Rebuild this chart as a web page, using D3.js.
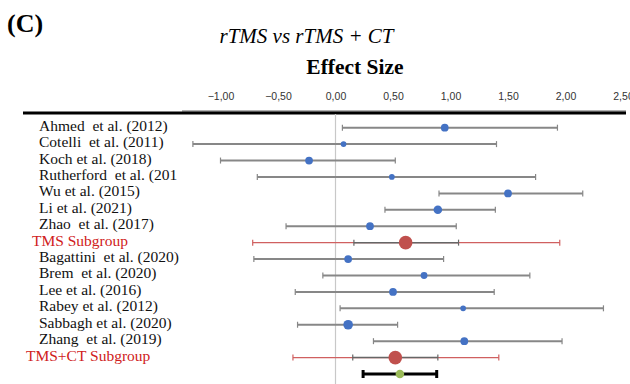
<!DOCTYPE html>
<html><head><meta charset="utf-8">
<script src="https://cdn.jsdelivr.net/npm/d3@7"></script>
<style>body{margin:0;background:#fff}svg{display:block}text{white-space:pre}</style>
</head><body><svg id="c" width="630" height="384"></svg>
<script>
const studies = ["Ahmed  et al. (2012)","Cotelli  et al. (2011)","Koch et al. (2018)","Rutherford  et al. (201","Wu et al. (2015)","Li et al. (2021)","Zhao  et al. (2017)","TMS Subgroup","Bagattini  et al. (2020)","Brem  et al. (2020)","Lee et al. (2016)","Rabey et al. (2012)","Sabbagh et al. (2020)","Zhang  et al. (2019)","TMS+CT Subgroup",""];
const kind = ["study","study","study","study","study","study","study","subgroup","study","study","study","study","study","study","subgroup","overall"];
const effect = [0.95,0.07,-0.23,0.49,1.50,0.89,0.30,0.61,0.11,0.77,0.50,1.11,0.11,1.12,0.52,0.56];
const ciLow  = [0.06,-1.24,-1.00,-0.68,0.90,0.43,-0.43,0.16,-0.71,-0.11,-0.35,0.04,-0.33,0.33,0.15,0.24];
const ciHigh = [1.93,1.40,0.52,1.74,2.15,1.39,1.05,1.07,0.94,1.69,1.38,2.33,0.54,1.97,0.89,0.88];
const piLow  = [null,null,null,null,null,null,null,-0.72,null,null,null,null,null,null,-0.37,null];
const piHigh = [null,null,null,null,null,null,null,1.95,null,null,null,null,null,null,1.42,null];
const weight = [6.5,3.5,6.5,3.5,6.5,8,6.5,20,6.5,5,6.5,3.5,10,6.5,20,8];
const tickValues = [-1,-0.5,0,0.5,1,1.5,2,2.5];

const svg = d3.select("#c");
const x = d3.scaleLinear().domain([-1,2.5]).range([220.5,623]);
const y = d3.scalePoint().domain(d3.range(studies.length)).range([127.7,374]);
const r = d3.scaleSqrt().domain([0,20]).range([0,6.8]);

svg.append("text").attr("x",7).attr("y",32).attr("font-family","Liberation Serif").attr("font-weight","bold").attr("font-size",26).text("(C)");
svg.append("text").attr("x",306.5).attr("y",43).attr("text-anchor","middle").attr("font-family","Liberation Serif").attr("font-style","italic").attr("font-size",21).text("rTMS vs rTMS + CT");
svg.append("text").attr("x",355).attr("y",74).attr("text-anchor","middle").attr("font-family","Liberation Serif").attr("font-weight","bold").attr("font-size",21.5).text("Effect Size");

// axis
const ax = svg.append("g").attr("transform","translate(0,100)")
  .call(d3.axisTop(x).tickValues(tickValues).tickSize(0).tickPadding(0)
    .tickFormat(d=>d3.format(".2f")(d).replace(".",",")));
ax.select(".domain").remove();
ax.selectAll("text").attr("font-family","Liberation Sans").attr("font-size",10.5).attr("fill","#333");

svg.append("line").attr("x1",182).attr("x2",626).attr("y1",111).attr("y2",111).attr("stroke","#999").attr("stroke-width",1.5);
svg.append("line").attr("x1",23).attr("x2",626).attr("y1",113).attr("y2",113).attr("stroke","#000").attr("stroke-width",3);
svg.append("line").attr("x1",x(0)).attr("x2",x(0)).attr("y1",114).attr("y2",384).attr("stroke","#c8c8c8").attr("stroke-width",1.2);

// labels
svg.append("g").selectAll("text").data(studies).join("text")
  .attr("x",(d,i)=>kind[i]==="subgroup"?(i===7?32:26):39)
  .attr("y",(d,i)=>y(i)+3)
  .attr("font-family","Liberation Serif").attr("font-size",15.5)
  .attr("fill",(d,i)=>kind[i]==="subgroup"?"#d02020":"#111")
  .text(d=>d);

const rows = svg.append("g").selectAll("g").data(d3.range(studies.length)).join("g");
function cappedLine(g,lo,hi,yy,color,w,cap){
  g.append("line").attr("x1",x(lo)).attr("x2",x(hi)).attr("y1",yy).attr("y2",yy).attr("stroke",color).attr("stroke-width",w);
  [lo,hi].forEach(v=>g.append("line").attr("x1",x(v)).attr("x2",x(v)).attr("y1",yy-cap).attr("y2",yy+cap).attr("stroke",color).attr("stroke-width",w>2?w:1.2));
}
rows.each(function(i){
  const g = d3.select(this), yy = y(i);
  if(kind[i]==="study"){
    cappedLine(g,ciLow[i],ciHigh[i],yy,"#878787",2,3);
    g.append("circle").attr("cx",x(effect[i])).attr("cy",yy).attr("r",r(weight[i])).attr("fill","#4472c4");
  } else if(kind[i]==="subgroup"){
    cappedLine(g,piLow[i],piHigh[i],yy,"#d06060",1.2,3);
    cappedLine(g,ciLow[i],ciHigh[i],yy,"#666",1.5,3);
    g.append("circle").attr("cx",x(effect[i])).attr("cy",yy).attr("r",r(weight[i])).attr("fill","#c0504d");
  } else {
    cappedLine(g,ciLow[i],ciHigh[i],yy,"#000",3,4);
    g.append("circle").attr("cx",x(effect[i])).attr("cy",yy).attr("r",r(weight[i])).attr("fill","#9bbb59");
  }
});
</script></body></html>
